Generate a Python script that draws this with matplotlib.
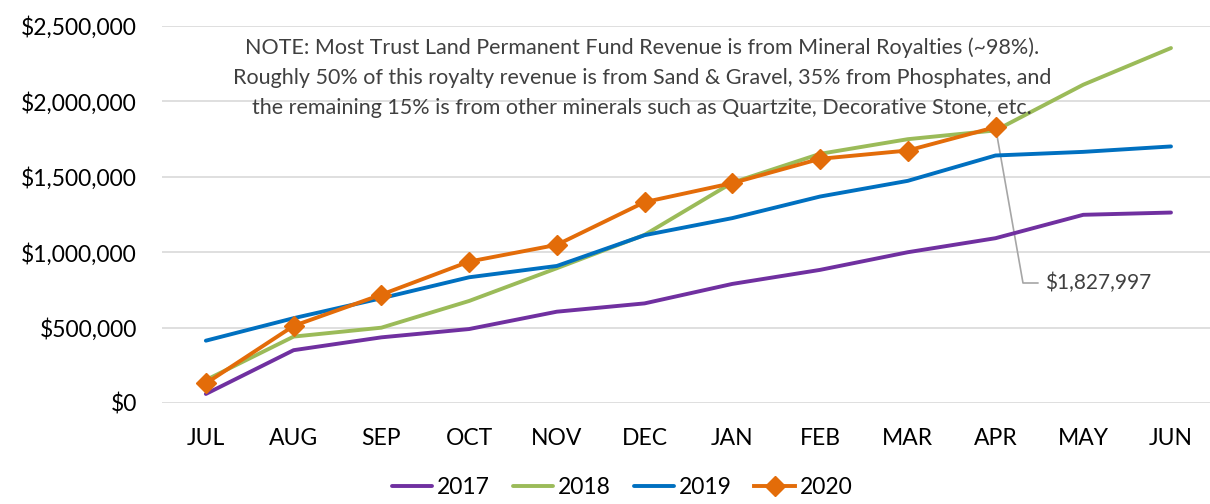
import matplotlib
matplotlib.use("Agg")
import matplotlib.pyplot as plt
from matplotlib.ticker import FuncFormatter

months = ["JUL", "AUG", "SEP", "OCT", "NOV", "DEC", "JAN", "FEB", "MAR", "APR", "MAY", "JUN"]
rev_2017 = [60000, 350000, 435000, 490000, 605000, 660000, 789000, 882000, 999000, 1092000, 1247000, 1262000]
rev_2018 = [152000, 440000, 499000, 676000, 893000, 1114000, 1460000, 1651000, 1748000, 1806000, 2109000, 2352000]
rev_2019 = [413000, 562000, 694000, 833000, 908000, 1112000, 1225000, 1368000, 1472000, 1640000, 1664000, 1700000]
rev_2020 = [130000, 511000, 718000, 937000, 1048000, 1331000, 1457000, 1618000, 1673000, 1827997]
note_lines = [
    "NOTE: Most Trust Land Permanent Fund Revenue is from Mineral Royalties (~98%).",
    "Roughly 50% of this royalty revenue is from Sand & Gravel, 35% from Phosphates, and",
    "the remaining 15% is from other minerals such as Quartzite, Decorative Stone, etc.",
]
annot_label = "$1,827,997"

plt.rcParams['font.family'] = ['Lato', 'DejaVu Sans']

W, H = 1210, 504
fig = plt.figure(figsize=(W / 100, H / 100), dpi=100)
ax = fig.add_axes([162 / W, (H - 403) / H, (W - 162) / W, (403 - 25.7) / H])

x = list(range(len(months)))
ax.plot(x, rev_2017, color="#7030A0", lw=2.8, label="2017", solid_capstyle="round", zorder=3)
ax.plot(x, rev_2018, color="#9BBB59", lw=2.8, label="2018", solid_capstyle="round", zorder=3)
ax.plot(x, rev_2019, color="#0070C0", lw=2.8, label="2019", solid_capstyle="round", zorder=3)
ax.plot(x[:len(rev_2020)], rev_2020, color="#E36C09", lw=2.8, marker="D", markersize=10.5,
        label="2020", zorder=4, clip_on=False)

ax.set_xlim(-0.5, 11 + (W - 1171) / 87.7)
ax.set_ylim(0, 2500000)
ax.set_yticks([0, 500000, 1000000, 1500000, 2000000, 2500000])
ax.yaxis.set_major_formatter(FuncFormatter(lambda v, p: "${:,.0f}".format(v)))
ax.set_xticks(x)
ax.set_xticklabels(months)
ax.grid(axis="y", color="#D9D9D9", lw=1.2)
ax.set_axisbelow(True)
for s in ax.spines.values():
    s.set_visible(False)
ax.tick_params(axis="both", length=0, labelsize=16.5, colors="black")
ax.tick_params(axis="x", pad=18)
ax.tick_params(axis="y", pad=18)

# note
note_y = [48, 78, 108]
for line, yy in zip(note_lines, note_y):
    fig.text(642 / W, 1 - yy / H, line, ha="center", va="center", fontsize=15.5, color="#404040")

# annotation with leader line
ax.annotate(annot_label, xy=(9, rev_2020[9]), xycoords="data",
            xytext=(1045 / W, 1 - 283 / H), textcoords="figure fraction",
            ha="left", va="center", fontsize=15, color="#404040",
            arrowprops=dict(arrowstyle="-", color="#A6A6A6", lw=1.2,
                            connectionstyle="angle,angleA=0,angleB=-80,rad=0",
                            shrinkA=3, shrinkB=0),
            zorder=2)

leg = fig.legend(loc="center", bbox_to_anchor=(622 / W, 1 - 488 / H), ncol=4, frameon=False,
                 fontsize=16.5, handlelength=1.75, handletextpad=0.22, columnspacing=1.0)

fig.savefig("out.png", dpi=100, facecolor="white")
